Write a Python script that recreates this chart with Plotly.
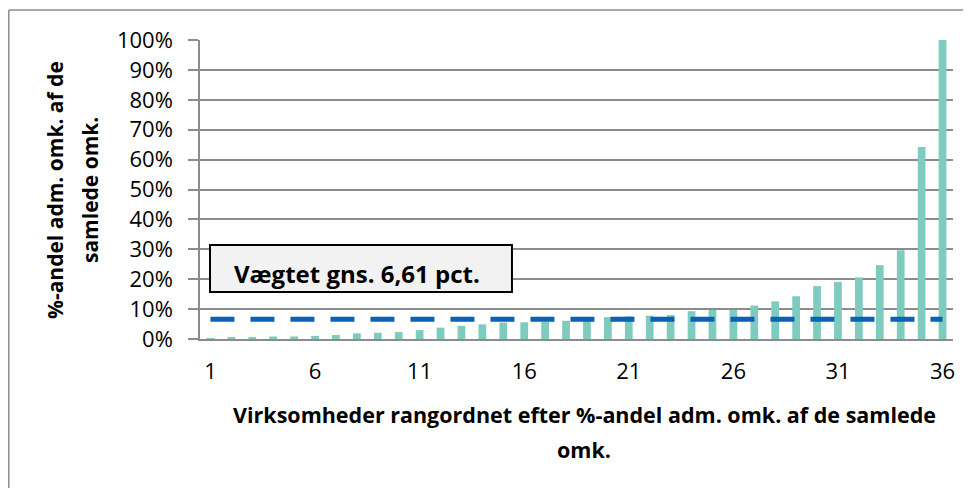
import plotly.graph_objects as go

# Data
ranks = list(range(1, 37))
shares = [0.1, 0.55, 0.7, 0.85, 0.85, 1.05, 1.35, 1.9, 2.1, 2.3, 3.0,
          3.8, 4.4, 4.9, 5.5, 5.6, 5.8, 6.1, 6.5, 7.3, 7.6, 7.8, 8.0,
          9.3, 9.7, 9.7, 11.2, 12.6, 14.3, 17.7, 19.1, 20.6, 24.7,
          29.7, 64.2, 100.0]
weighted_avg = 6.61
x_ticks = [1, 6, 11, 16, 21, 26, 31, 36]
y_ticks = [0, 10, 20, 30, 40, 50, 60, 70, 80, 90, 100]
box_label = "Vægtet gns. 6,61 pct."
x_title_lines = ["Virksomheder rangordnet efter %-andel adm. omk. af de samlede", "omk."]
y_title_lines = ["%-andel adm. omk. af de", "samlede omk."]

FONT = "Open Sans"
GRID = "#8c8c8c"

# page has an 8px body margin; plot area on the page spans x 200..953, y 40..339
fig = go.Figure()
fig.add_trace(go.Bar(x=ranks, y=shares, width=0.37,
                     marker=dict(color="#80CBBF", line=dict(width=0)),
                     showlegend=False, hoverinfo="x+y"))
fig.add_trace(go.Scatter(x=[ranks[0], ranks[-1]], y=[weighted_avg, weighted_avg],
                         mode="lines",
                         line=dict(color="#0A62B8", width=5, dash="24px,16px"),
                         showlegend=False))

fig.update_layout(
    width=963, height=480,
    margin=dict(l=192, r=18, t=32, b=149),
    paper_bgcolor="white", plot_bgcolor="white",
    font=dict(family=FONT, color="black"),
    xaxis=dict(range=[0.5, 36.5], tickmode="array", tickvals=x_ticks,
               ticktext=[str(v) for v in x_ticks], ticks="",
               ticklabelstandoff=12,
               tickfont=dict(size=22, family=FONT),
               showgrid=False, zeroline=False,
               showline=True, linecolor=GRID, linewidth=2),
    yaxis=dict(range=[0, 100], tickmode="array", tickvals=y_ticks,
               ticktext=[f"{v}%" for v in y_ticks],
               ticks="outside", ticklen=10, tickcolor=GRID, tickwidth=1.5,
               ticklabelstandoff=11,
               tickfont=dict(size=22, family=FONT),
               showgrid=True, gridcolor=GRID, gridwidth=1.5,
               zeroline=False, showline=True, linecolor=GRID, linewidth=1.5),
    bargap=0.6,
)

# outer chart border (left + top visible, cropped at right/bottom)
left_edge = -191.2 / 753
top_edge = 1 + 30.0 / 299
fig.add_shape(type="line", xref="paper", yref="paper",
              x0=left_edge, x1=left_edge, y0=-0.7, y1=top_edge,
              line=dict(color="#8c8c8c", width=1.5), layer="above")
fig.add_shape(type="line", xref="paper", yref="paper",
              x0=left_edge, x1=1.1, y0=top_edge, y1=top_edge,
              line=dict(color="#8c8c8c", width=1.5), layer="above")

# label box
fig.add_shape(type="rect", xref="paper", yref="paper",
              x0=0.0133, x1=0.4143, y0=0.157, y1=0.314,
              line=dict(color="black", width=2), fillcolor="#F2F2F2",
              layer="above")
fig.add_annotation(xref="paper", yref="paper", x=(357 - 200) / 753, y=(339 - 273) / 299,
                   text=f"<b>{box_label}</b>", showarrow=False,
                   font=dict(size=24, family=FONT, color="black"),
                   xanchor="center", yanchor="middle")

# x title
for txt, py in zip(x_title_lines, [414, 449]):
    fig.add_annotation(xref="paper", yref="paper", x=(584 - 200) / 753, y=(339 - py) / 299,
                       text=f"<b>{txt}</b>", showarrow=False,
                       font=dict(size=21.5, family=FONT, color="black"),
                       xanchor="center", yanchor="middle")

# y title
for txt, px in zip(y_title_lines, [55, 90]):
    fig.add_annotation(xref="paper", yref="paper", x=(px - 200) / 753, y=(339 - 190) / 299,
                       text=f"<b>{txt}</b>", showarrow=False, textangle=-90,
                       font=dict(size=21, family=FONT, color="black"),
                       xanchor="center", yanchor="middle")

fig.write_html("out.html")
